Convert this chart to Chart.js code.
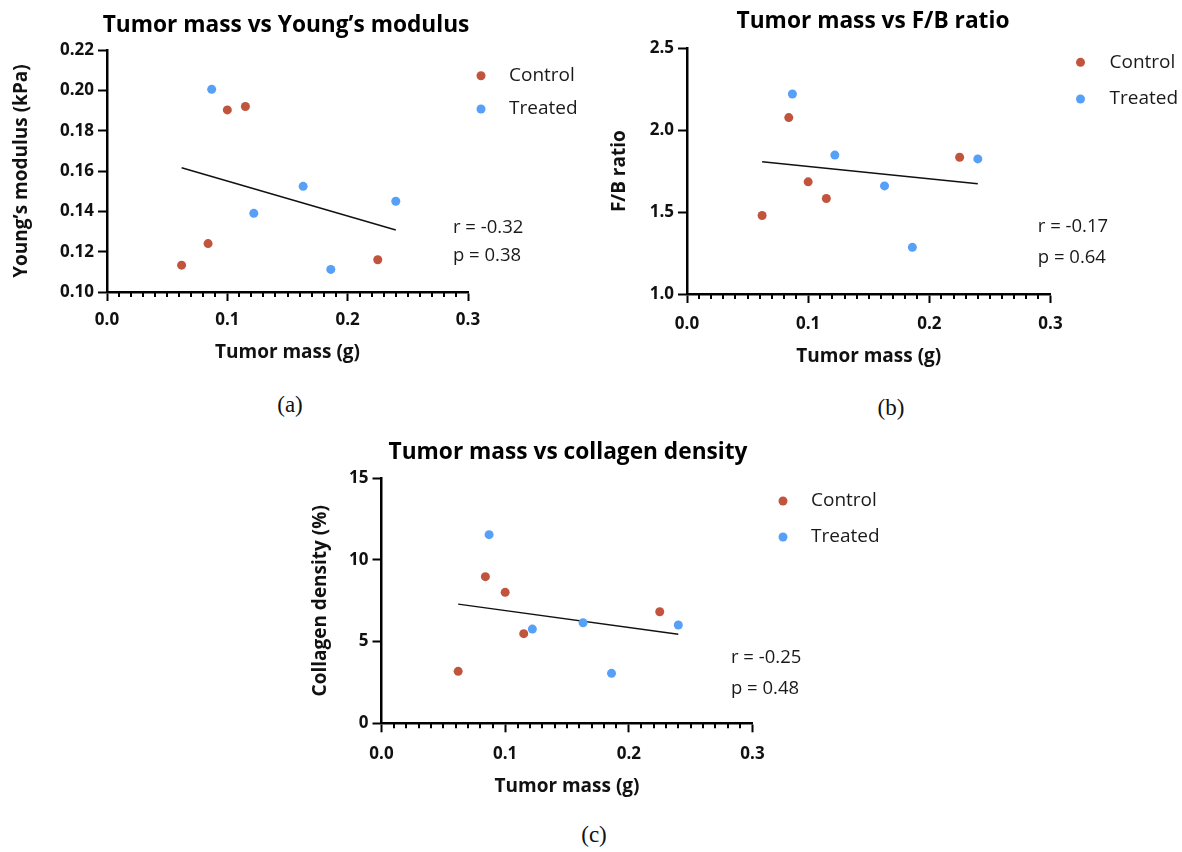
<!DOCTYPE html>
<html>
<head>
<meta charset="utf-8">
<script src="https://cdn.jsdelivr.net/npm/chart.js@4.4.1/dist/chart.umd.min.js"></script>
<style>
  body { margin: 0; background: #fff; width: 1182px; height: 852px; position: relative; overflow: hidden; }
  canvas { position: absolute; }
  .cap { position: absolute; font-family: 'Liberation Serif', serif; font-size: 23px; color: #111;
         transform: translate(-50%, -50%); }
</style>
</head>
<body>
<canvas id="chartA" width="590" height="380" style="left:0px; top:0px"></canvas>
<canvas id="chartB" width="587" height="380" style="left:595px; top:0px"></canvas>
<canvas id="chartC" width="600" height="380" style="left:300px; top:430px"></canvas>
<div class="cap" style="left:290px; top:405px">(a)</div>
<div class="cap" style="left:891px; top:408px">(b)</div>
<div class="cap" style="left:594px; top:835px">(c)</div>
<script>
// tumour mass per mouse (g)
const massControl = [0.062, 0.084, 0.100, 0.115, 0.225];
const massTreated = [0.087, 0.122, 0.163, 0.186, 0.240];

// Young's modulus (kPa)
const youngControl = [0.1133, 0.124, 0.1903, 0.192, 0.116];
const youngTreated = [0.2005, 0.139, 0.1524, 0.1112, 0.145];

// F/B ratio
const fbControl = [1.479, 2.077, 1.685, 1.583, 1.835];
const fbTreated = [2.221, 1.848, 1.66, 1.285, 1.825];

// collagen density (%)
const collagenControl = [3.18, 8.98, 8.02, 5.49, 6.83];
const collagenTreated = [11.55, 5.77, 6.16, 3.06, 6.02];

const groupLabels = ['Control', 'Treated'];
const massTicks = [0, 0.3, 0.1];      // min, max, step
const youngTicks = [0.10, 0.22, 0.02];
const fbTicks = [1.0, 2.5, 0.5];
const collagenTicks = [0, 15, 5];

const statsA = ['r = -0.32', 'p = 0.38'];
const statsB = ['r = -0.17', 'p = 0.64'];
const statsC = ['r = -0.25', 'p = 0.48'];

const RED = 'rgb(193, 84, 60)';
const BLUE = 'rgb(86, 160, 248)';
const BOLD = "'Open Sans'";
const REG = "'Open Sans'";

const toPoints = (xs, ys) => xs.map((x, i) => ({ x: x, y: ys[i] }));

// least squares line over both groups, from min to max mass
function fitLine(xs, ys) {
    const n = xs.length;
    const mx = xs.reduce((a, b) => a + b, 0) / n;
    const my = ys.reduce((a, b) => a + b, 0) / n;
    let sxy = 0, sxx = 0;
    xs.forEach((x, i) => { sxy += (x - mx) * (ys[i] - my); sxx += (x - mx) * (x - mx); });
    const slope = sxy / sxx;
    const lo = Math.min(...xs), hi = Math.max(...xs);
    return [{ x: lo, y: my + slope * (lo - mx) }, { x: hi, y: my + slope * (hi - mx) }];
}

// reserves room right of the plot and draws legend, stats and minor ticks
const panelDecor = {
    id: 'panelDecor',
    beforeInit(chart, args, opts) {
        Chart.layouts.addBox(chart, {
            position: 'right', weight: 0, fullSize: false, options: {},
            top: 0, left: 0, right: 0, bottom: 0, width: 0, height: 0,
            isHorizontal() { return false; },
            update(maxWidth, maxHeight) { this.width = opts.sideWidth; this.height = maxHeight; },
            draw() {}
        });
    },
    afterDraw(chart, args, opts) {
        const ctx = chart.ctx;
        const area = chart.chartArea;
        const xs = chart.scales.x;
        ctx.save();

        // minor ticks every 0.01 on the mass axis
        ctx.strokeStyle = '#000';
        ctx.lineWidth = 2;
        for (let k = 1; k < 30; k++) {
            if (k % 10 === 0) continue;
            const px = Math.round(xs.getPixelForValue(k / 100));
            ctx.beginPath();
            ctx.moveTo(px, area.bottom);
            ctx.lineTo(px, area.bottom + 5);
            ctx.stroke();
        }

        // legend
        ctx.font = '19px ' + REG;
        ctx.textBaseline = 'middle';
        ctx.textAlign = 'left';
        chart.data.datasets.filter(d => !d.fit).forEach((d, i) => {
            const y = area.top + opts.legendRows[i];
            ctx.fillStyle = d.backgroundColor;
            ctx.beginPath();
            ctx.arc(area.right + opts.dotDx, y, 4.5, 0, Math.PI * 2);
            ctx.fill();
            ctx.fillStyle = '#1a1a1a';
            ctx.fillText(d.label, area.right + opts.textDx, y);
        });

        // r and p values
        ctx.font = '18.5px ' + REG;
        opts.stats.forEach((s, i) => {
            ctx.fillText(s, area.right + opts.statsDx, area.bottom + opts.statsRows[i]);
        });
        ctx.restore();
    }
};

function makePanel(id, p) {
    const allX = massControl.concat(massTreated);
    const allY = p.control.concat(p.treated);
    new Chart(document.getElementById(id), {
        type: 'scatter',
        data: {
            datasets: [
                { label: groupLabels[0], data: toPoints(massControl, p.control), backgroundColor: RED,
                  pointRadius: 4.5, pointBorderWidth: 0 },
                { label: groupLabels[1], data: toPoints(massTreated, p.treated), backgroundColor: BLUE,
                  pointRadius: 4.5, pointBorderWidth: 0 },
                { label: 'fit', fit: true, data: fitLine(allX, allY), showLine: true,
                  borderColor: '#111', borderWidth: 1.4, pointRadius: 0 }
            ]
        },
        options: {
            responsive: false,
            animation: false,
            events: [],
            layout: { padding: { left: 0, right: p.padRight, top: 0, bottom: 0 } },
            plugins: {
                legend: { display: false },
                tooltip: { enabled: false },
                title: {
                    display: true,
                    text: p.title,
                    color: '#000',
                    font: { family: BOLD, size: 22.7, weight: 'bold' },
                    padding: { top: p.titleTop, bottom: p.titleBottom }
                },
                panelDecor: {
                    sideWidth: p.sideWidth,
                    legendRows: p.legendRows, dotDx: p.dotDx, textDx: p.textDx,
                    stats: p.stats, statsDx: p.statsDx, statsRows: p.statsRows
                }
            },
            scales: {
                x: {
                    type: 'linear',
                    min: massTicks[0], max: massTicks[1],
                    afterFit(scale) { scale.height = p.xHeight; },
                    border: { color: '#000', width: 2.5 },
                    grid: { drawOnChartArea: false, tickLength: 9, tickWidth: 2, tickColor: '#000' },
                    ticks: {
                        stepSize: massTicks[2], padding: p.xTickPad, color: '#111',
                        font: { family: BOLD, size: 17, weight: 'bold' },
                        callback: v => Number(v).toFixed(1)
                    },
                    title: {
                        display: true, text: 'Tumor mass (g)', color: '#111',
                        font: { family: BOLD, size: 19, weight: 'bold' },
                        padding: { top: 0, bottom: p.xTitleBottom }
                    }
                },
                y: {
                    min: p.yTicks[0], max: p.yTicks[1],
                    afterFit(scale) { scale.width = p.yWidth; },
                    border: { color: '#000', width: 2.5 },
                    grid: { drawOnChartArea: false, tickLength: 9, tickWidth: 2, tickColor: '#000' },
                    ticks: {
                        stepSize: p.yTicks[2], padding: 4, color: '#111',
                        font: { family: BOLD, size: 17, weight: 'bold' },
                        callback: v => Number(v).toFixed(p.decimals)
                    },
                    title: {
                        display: true, text: p.yTitle, color: '#111',
                        font: { family: BOLD, size: 19, weight: 'bold' },
                        padding: { top: p.yTitleTop, bottom: 0 }
                    }
                }
            }
        },
        plugins: [panelDecor]
    });
}

makePanel('chartA', {
    title: 'Tumor mass vs Young\u2019s modulus', yTitle: 'Young\u2019s modulus (kPa)',
    control: youngControl, treated: youngTreated, yTicks: youngTicks, decimals: 2,
    padRight: 18, sideWidth: 104, yWidth: 107, xHeight: 88,
    titleTop: 12.4, titleBottom: 10.4, xTickPad: 8.5, xTitleBottom: 15.6, yTitleTop: 10.6,
    legendRows: [25.7, 59], dotDx: 13, textDx: 41,
    stats: statsA, statsDx: -15, statsRows: [-64, -36]
});

makePanel('chartB', {
    title: 'Tumor mass vs F/B ratio', yTitle: 'F/B ratio',
    control: fbControl, treated: fbTreated, yTicks: fbTicks, decimals: 1,
    padRight: 31, sideWidth: 100.5, yWidth: 92, xHeight: 86,
    titleTop: 8.4, titleBottom: 12.7, xTickPad: 10.5, xTitleBottom: 11.9, yTitleTop: 13.6,
    legendRows: [14, 50.7], dotDx: 30, textDx: 59,
    stats: statsB, statsDx: -12.7, statsRows: [-67, -36]
});

makePanel('chartC', {
    title: 'Tumor mass vs collagen density', yTitle: 'Collagen density (%)',
    control: collagenControl, treated: collagenTreated, yTicks: collagenTicks, decimals: 0,
    padRight: 64, sideWidth: 83.5, yWidth: 81.5, xHeight: 86.7,
    titleTop: 9.4, titleBottom: 11.7, xTickPad: 11.2, xTitleBottom: 11.6, yTitleTop: 9.6,
    legendRows: [22.7, 58.7], dotDx: 30.5, textDx: 58.5,
    stats: statsC, statsDx: -21.5, statsRows: [-66, -35]
});
</script>
</body>
</html>
